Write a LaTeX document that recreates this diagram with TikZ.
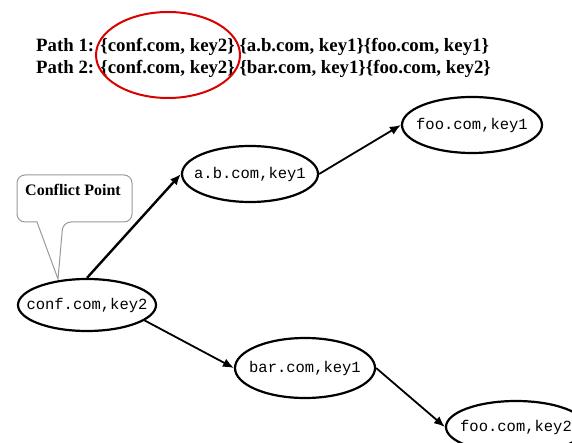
\documentclass[tikz,border=0pt]{standalone}
\usepackage{fontspec}
\setmainfont{Liberation Serif}
\setmonofont{Liberation Mono}
\usetikzlibrary{shapes.geometric,arrows.meta}
\tikzset{
  host/.style={ellipse, draw=black, line width=2.2pt, inner xsep=-16pt, inner ysep=0pt,
    minimum width=140pt, minimum height=56pt,
    font=\ttfamily\fontsize{15.5}{18}\selectfont},
  link/.style={draw=black, line width=1.8pt, -{Latex[length=11pt,width=9pt]}},
  pathtext/.style={anchor=base west, inner sep=0pt,
    font=\bfseries\fontsize{18.8}{21}\selectfont},
  callout/.style={draw=gray!80, line width=1pt, fill=white},
}
\begin{document}
\begin{tikzpicture}[x=1pt,y=-1pt]
\useasboundingbox (0,0) rectangle (572,443);
\begin{scope}
\clip (0,0) rectangle (572,443);

% path listing
\node[pathtext] (p1) at (36,52) {Path 1: \{conf.com, key2\} \{a.b.com, key1\}\{foo.com, key1\}};
\node[pathtext] (p2) at (36,74) {Path 2: \{conf.com, key2\} \{bar.com, key1\}\{foo.com, key2\}};
\node[ellipse, draw=red!85!black, line width=2pt, minimum width=144pt,
  minimum height=86pt, inner sep=0pt] (hl) at (168,55) {};

% callout
\draw[callout, rounded corners=8pt] (37,222) -- (17,222) -- (17,175) -- (132,175)
  -- (132,222) -- (63,222) [sharp corners] -- (58,279) -- cycle;
\node[font=\bfseries\fontsize{16}{18}\selectfont] (cp) at (73,190) {Conflict Point};

% hosts
\node[host, minimum width=138pt, minimum height=52pt] (conf) at (87,305) {conf.com,key2};
\node[host, minimum width=136pt] (ab) at (250,174) {a.b.com,key1};
\node[host] (foo1) at (472,125) {foo.com,key1};
\node[host, minimum height=60pt] (bar) at (305,368) {bar.com,key1};
\node[host, minimum height=52pt] (foo2) at (516,427) {foo.com,key2};

% links
\draw[link, line width=2.4pt] (conf.north) -- (ab.west);
\draw[link] (ab.east) -- (foo1.west);
\draw[link] (conf.-15) -- (bar.west);
\draw[link] (bar.east) -- (foo2.west);
\end{scope}
\end{tikzpicture}
\end{document}
